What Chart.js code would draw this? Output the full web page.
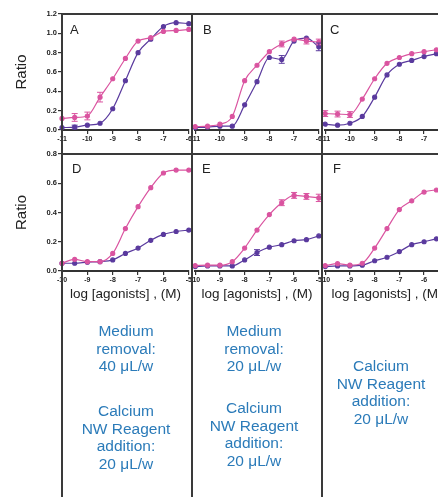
<!DOCTYPE html>
<html><head><meta charset="utf-8">
<script src="https://cdn.jsdelivr.net/npm/chart.js@4/dist/chart.umd.min.js"></script>
<style>
html,body{margin:0;padding:0;background:#fff;}
body{width:438px;height:497px;position:relative;overflow:hidden;font-family:"Liberation Sans",Arial,sans-serif;}
canvas{position:absolute;}
.vline{position:absolute;top:14px;bottom:0;width:2px;background:#3a3a3a;}
.hline{position:absolute;left:62px;right:0;height:2px;background:#3a3a3a;}
.letter{position:absolute;font-size:13px;line-height:13px;color:#222;}
.note{position:absolute;width:130px;text-align:center;color:#2b7bb9;font-size:15.5px;line-height:17.5px;}
</style></head><body>
<canvas id="cA" width="192" height="150" style="left:0;top:0"></canvas>
<canvas id="cB" width="130" height="150" style="left:192px;top:0"></canvas>
<canvas id="cC" width="130" height="150" style="left:322px;top:0"></canvas>
<canvas id="cD" width="192" height="170" style="left:0;top:140px"></canvas>
<canvas id="cE" width="130" height="170" style="left:192px;top:140px"></canvas>
<canvas id="cF" width="130" height="170" style="left:322px;top:140px"></canvas>

<div class="hline" style="top:13px"></div>
<div class="hline" style="top:153px"></div>
<div class="vline" style="left:61px"></div>
<div class="vline" style="left:191px"></div>
<div class="vline" style="left:321px"></div>

<div class="letter" style="left:70px;top:23px">A</div>
<div class="letter" style="left:203px;top:23px">B</div>
<div class="letter" style="left:330px;top:23px">C</div>
<div class="letter" style="left:72px;top:162px">D</div>
<div class="letter" style="left:202px;top:162px">E</div>
<div class="letter" style="left:333px;top:162px">F</div>

<div class="note" style="left:61px;top:322px">Medium<br>removal:<br>40 μL/w</div>
<div class="note" style="left:61px;top:402px">Calcium<br>NW Reagent<br>addition:<br>20 μL/w</div>
<div class="note" style="left:189px;top:322px">Medium<br>removal:<br>20 μL/w</div>
<div class="note" style="left:189px;top:399px">Calcium<br>NW Reagent<br>addition:<br>20 μL/w</div>
<div class="note" style="left:316px;top:357px">Calcium<br>NW Reagent<br>addition:<br>20 μL/w</div>

<script>
// ---- data ----
const xTop = [-11, -10.5, -10, -9.5, -9, -8.5, -8, -7.5, -7, -6.5, -6];
const xBottom = [-10, -9.5, -9, -8.5, -8, -7.5, -7, -6.5, -6, -5.5, -5];
const xTicksTop = [-11, -10, -9, -8, -7, -6];
const xTicksBottom = [-10, -9, -8, -7, -6, -5];
const yTicksTop = [0, 0.2, 0.4, 0.6, 0.8, 1.0, 1.2];
const yTicksBottom = [0, 0.2, 0.4, 0.6, 0.8];

const aPink   = [0.12, 0.13, 0.145, 0.34, 0.53, 0.74, 0.92, 0.955, 1.02, 1.03, 1.04];
const aPurple = [0.025, 0.03, 0.05, 0.07, 0.22, 0.51, 0.80, 0.94, 1.07, 1.11, 1.10];
const bPink   = [0.035, 0.04, 0.06, 0.14, 0.51, 0.67, 0.81, 0.89, 0.94, 0.92, 0.91];
const bPurple = [0.025, 0.03, 0.04, 0.04, 0.26, 0.50, 0.75, 0.73, 0.92, 0.95, 0.86];
const cPink   = [0.17, 0.165, 0.16, 0.32, 0.53, 0.69, 0.75, 0.79, 0.81, 0.83, 0.84];
const cPurple = [0.06, 0.05, 0.07, 0.14, 0.34, 0.57, 0.68, 0.72, 0.76, 0.79, 0.82];
const dPink   = [0.053, 0.08, 0.064, 0.064, 0.12, 0.29, 0.44, 0.57, 0.67, 0.69, 0.69];
const dPurple = [0.053, 0.053, 0.06, 0.064, 0.076, 0.12, 0.157, 0.21, 0.25, 0.27, 0.28];
const ePink   = [0.037, 0.04, 0.04, 0.064, 0.157, 0.28, 0.386, 0.467, 0.517, 0.51, 0.50];
const ePurple = [0.03, 0.035, 0.035, 0.035, 0.076, 0.126, 0.163, 0.18, 0.207, 0.214, 0.24];
const fPink   = [0.037, 0.05, 0.04, 0.053, 0.157, 0.29, 0.42, 0.48, 0.54, 0.554, 0.56];
const fPurple = [0.03, 0.035, 0.035, 0.04, 0.07, 0.094, 0.133, 0.18, 0.20, 0.22, 0.23];

// error half-widths (0 = none visible)
const aPinkErr   = [0, 0.04, 0.04, 0.05, 0, 0, 0, 0, 0, 0, 0];
const aPurpleErr = [0, 0.02, 0, 0, 0, 0, 0, 0, 0, 0, 0];
const bPinkErr   = [0, 0, 0, 0, 0, 0, 0, 0.03, 0, 0.03, 0.03];
const bPurpleErr = [0, 0, 0, 0, 0, 0, 0, 0.04, 0, 0, 0.04];
const cPinkErr   = [0.03, 0.03, 0.03, 0, 0, 0, 0, 0, 0, 0, 0];
const cPurpleErr = [0, 0, 0, 0, 0, 0, 0, 0, 0, 0, 0];
const ePinkErr   = [0, 0, 0, 0, 0, 0, 0, 0.02, 0.02, 0.02, 0.025];
const ePurpleErr = [0, 0, 0, 0, 0, 0.02, 0, 0, 0, 0, 0];

const pinkColor = '#da54a0';
const purpleColor = '#5a3a9e';
const axisColor = '#333';

const errorBars = {
  id: 'errorBars',
  afterDatasetsDraw(chart) {
    const ctx = chart.ctx, ys = chart.scales.y;
    chart.data.datasets.forEach((ds, i) => {
      if (!ds.errors) return;
      const meta = chart.getDatasetMeta(i);
      ctx.save();
      ctx.strokeStyle = ds.borderColor;
      ctx.lineWidth = 1;
      meta.data.forEach((pt, j) => {
        const e = ds.errors[j];
        if (!e) return;
        const v = ds.data[j].y;
        const y1 = ys.getPixelForValue(v + e), y2 = ys.getPixelForValue(v - e);
        ctx.beginPath();
        ctx.moveTo(pt.x, y1); ctx.lineTo(pt.x, y2);
        ctx.moveTo(pt.x - 3, y1); ctx.lineTo(pt.x + 3, y1);
        ctx.moveTo(pt.x - 3, y2); ctx.lineTo(pt.x + 3, y2);
        ctx.stroke();
      });
      ctx.restore();
    });
  }
};

function series(xs, ys, color, errs) {
  return {
    data: xs.map((x, i) => ({x: x, y: ys[i]})),
    borderColor: color,
    backgroundColor: color,
    borderWidth: 1.2,
    pointRadius: 2,
    pointHoverRadius: 2,
    cubicInterpolationMode: 'monotone',
    clip: false,
    errors: errs || null
  };
}

function panel(id, cfg) {
  const canvas = document.getElementById(id);
  const H = canvas.height;
  const areaH = cfg.bottomRow ? 117 : 116;
  new Chart(canvas, {
    type: 'line',
    data: {
      datasets: [
        series(cfg.xs, cfg.pink, pinkColor, cfg.pinkErr),
        series(cfg.xs, cfg.purple, purpleColor, cfg.purpleErr)
      ]
    },
    options: {
      responsive: false,
      animation: false,
      devicePixelRatio: 1,
      layout: {padding: {top: 14, left: 0, right: 0, bottom: 0}},
      plugins: {legend: {display: false}, tooltip: {enabled: false}},
      scales: {
        x: {
          type: 'linear',
          min: cfg.xTicks[0],
          max: cfg.xTicks[cfg.xTicks.length - 1],
          afterBuildTicks: s => { s.ticks = cfg.xTicks.map(v => ({value: v})); },
          afterFit: s => { s.height = H - 14 - areaH; s.paddingLeft = 0; s.paddingRight = 0; },
          ticks: {
            autoSkip: false, maxRotation: 0, padding: 1,
            color: '#222', font: {family: 'Liberation Sans', size: 7, weight: 'bold'},
            callback: v => String(v)
          },
          grid: {drawOnChartArea: false, tickLength: 4, color: axisColor, lineWidth: 1.2},
          border: {color: axisColor, width: 2},
          title: cfg.bottomRow ? {
            display: true, text: 'log [agonists] , (M)', color: '#222',
            font: {family: 'Liberation Sans', size: 13.5}, padding: {top: 0, bottom: 8}
          } : {display: false}
        },
        y: {
          display: cfg.showY,
          min: 0,
          max: cfg.yTicks[cfg.yTicks.length - 1],
          afterBuildTicks: s => { s.ticks = cfg.yTicks.map(v => ({value: v})); },
          afterFit: s => { s.width = cfg.showY ? 62 : 0; s.paddingTop = 0; s.paddingBottom = 0; },
          ticks: {
            padding: 1, color: '#222',
            font: {family: 'Liberation Sans', size: 7.5, weight: 'bold'},
            callback: v => Number(v).toFixed(1)
          },
          grid: {drawOnChartArea: false, tickLength: 4, color: axisColor, lineWidth: 1.2},
          border: {color: axisColor, width: 2},
          title: {
            display: cfg.showY, text: 'Ratio', color: '#222',
            font: {family: 'Liberation Sans', size: 15}, padding: {top: 13, bottom: 0}
          }
        }
      }
    },
    plugins: [errorBars]
  });
}

panel('cA', {xs: xTop, pink: aPink, purple: aPurple, pinkErr: aPinkErr, purpleErr: aPurpleErr,
  xTicks: xTicksTop, yTicks: yTicksTop, showY: true, bottomRow: false});
panel('cB', {xs: xTop, pink: bPink, purple: bPurple, pinkErr: bPinkErr, purpleErr: bPurpleErr,
  xTicks: xTicksTop, yTicks: yTicksTop, showY: false, bottomRow: false});
panel('cC', {xs: xTop, pink: cPink, purple: cPurple, pinkErr: cPinkErr, purpleErr: cPurpleErr,
  xTicks: xTicksTop, yTicks: yTicksTop, showY: false, bottomRow: false});
panel('cD', {xs: xBottom, pink: dPink, purple: dPurple,
  xTicks: xTicksBottom, yTicks: yTicksBottom, showY: true, bottomRow: true});
panel('cE', {xs: xBottom, pink: ePink, purple: ePurple, pinkErr: ePinkErr, purpleErr: ePurpleErr,
  xTicks: xTicksBottom, yTicks: yTicksBottom, showY: false, bottomRow: true});
panel('cF', {xs: xBottom, pink: fPink, purple: fPurple,
  xTicks: xTicksBottom, yTicks: yTicksBottom, showY: false, bottomRow: true});
</script>
</body></html>
